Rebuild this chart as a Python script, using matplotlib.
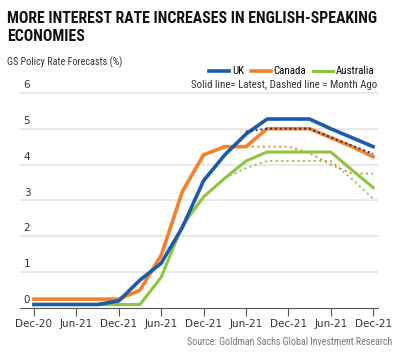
import matplotlib.pyplot as plt
import numpy as np

# quarterly points starting Dec-20
quarters = np.arange(17)
tick_labels = ["Dec-20", "Jun-21", "Dec-21", "Jun-21", "Dec-21", "Jun-21", "Dec-21", "Jun-21", "Dec-21"]

uk_latest = [0.1, 0.1, 0.1, 0.1, 0.2, 0.78, 1.25, 2.25, 3.55, 4.27, 4.85, 5.27, 5.27, 5.27, 5.0, 4.75, 4.5]
canada_latest = [0.25, 0.25, 0.25, 0.25, 0.25, 0.5, 1.47, 3.25, 4.27, 4.5, 4.5, 5.0, 5.0, 5.0, 4.75, 4.5, 4.22]
australia_latest = [0.1, 0.1, 0.1, 0.1, 0.1, 0.1, 0.86, 2.3, 3.1, 3.62, 4.1, 4.35, 4.35, 4.35, 4.35, 3.85, 3.36]

uk_month_ago = [None] * 10 + [4.92, 5.0, 5.0, 5.0, 4.76, 4.53, 4.3]
canada_month_ago = [None] * 9 + [4.5, 4.5, 4.5, 4.5, 4.32, 4.0, 3.75, 3.75]
australia_month_ago = [None] * 9 + [3.62, 3.9, 4.1, 4.1, 4.1, 4.1, 3.6, 3.05]

blue = "#1c5aab"
navy = "#1f2f6b"
orange = "#f5822a"
green = "#8cc63e"
narrow = ["Roboto Condensed", "Liberation Sans Narrow", "Roboto", "DejaVu Sans"]

fig = plt.figure(figsize=(4.0, 3.57), dpi=100)
ax = fig.add_axes([0.05, 0.137, 0.895, 0.605])

def month_ago(vals):
    return np.array([np.nan if v is None else v for v in vals], dtype=float)

# dashed (month ago) lines first so the solid ones sit on top
ax.plot(quarters, month_ago(canada_month_ago), color=orange, lw=1.4, ls=(0, (1, 1.8)), zorder=2)
ax.plot(quarters, month_ago(australia_month_ago), color=green, lw=1.4, ls=(0, (1, 1.8)), zorder=2)

ax.plot(quarters, australia_latest, color=green, lw=2.2, zorder=3, label="Australia")
ax.plot(quarters, canada_latest, color=orange, lw=2.6, zorder=3, label="Canada")
ax.plot(quarters, uk_latest, color=blue, lw=2.6, zorder=4, label="UK")
ax.plot(quarters, month_ago(uk_month_ago), color=navy, lw=1.4, ls=(0, (1, 1.5)), zorder=5)

ax.set_xlim(-0.66, 16.23)
ax.set_ylim(0, 6.02)

for v in range(0, 7):
    if v > 0:
        ax.axhline(v, color="#e8e8e8", lw=1.5, zorder=1)
    ax.text(-0.33, v + 0.08, str(v), fontsize=7.5, color="#333333", ha="center", va="bottom")

ax.set_yticks([])
ax.set_xticks(quarters[::2])
ax.set_xticklabels(tick_labels, fontsize=7.5, color="#333333")
ax.tick_params(axis="x", length=6, width=0.8, color="#555555", pad=2)
for side in ["top", "right", "left"]:
    ax.spines[side].set_visible(False)
ax.spines["bottom"].set_color("#555555")
ax.spines["bottom"].set_linewidth(0.8)

fig.text(0.018, 0.97, "MORE INTEREST RATE INCREASES IN ENGLISH-SPEAKING\nECONOMIES",
         fontsize=11.3, fontweight="bold", family=narrow,
         va="top", ha="left", linespacing=1.3, color="#111111")
fig.text(0.018, 0.825, "GS Policy Rate Forecasts (%)", fontsize=7.3, color="#333333",
         family=narrow, va="center")

handles, labels = ax.get_legend_handles_labels()
order = [2, 1, 0]
fig.legend([handles[i] for i in order], [labels[i] for i in order], ncol=3,
           loc="center right", bbox_to_anchor=(0.948, 0.80), frameon=False,
           prop={"family": narrow, "size": 7.8}, handlelength=1.8, handletextpad=0.3,
           columnspacing=0.65, borderaxespad=0)

fig.text(0.943, 0.762, "Solid line= Latest, Dashed line = Month Ago", fontsize=7.8,
         color="#333333", ha="right", va="center", family=narrow)
fig.text(0.98, 0.042, "Source: Goldman Sachs Global Investment Research", fontsize=7.2,
         color="#777777", ha="right", va="center", family=narrow)

fig.savefig("out.png", dpi=100)
